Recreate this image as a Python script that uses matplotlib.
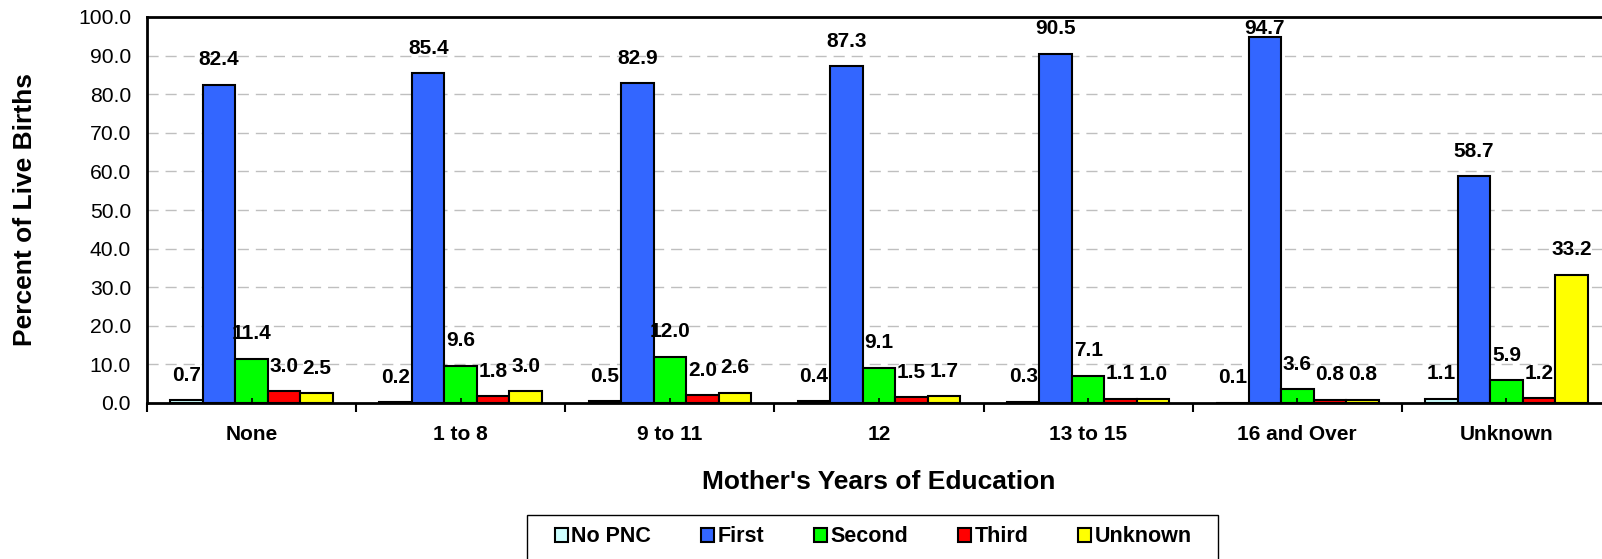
import matplotlib
matplotlib.use("Agg")
import matplotlib.pyplot as plt
from matplotlib.patches import Rectangle
import numpy as np

categories = ["None", "1 to 8", "9 to 11", "12", "13 to 15", "16 and Over", "Unknown"]
series_names = ["No PNC", "First", "Second", "Third", "Unknown"]
no_pnc = [0.7, 0.2, 0.5, 0.4, 0.3, 0.1, 1.1]
first = [82.4, 85.4, 82.9, 87.3, 90.5, 94.7, 58.7]
second = [11.4, 9.6, 12.0, 9.1, 7.1, 3.6, 5.9]
third = [3.0, 1.8, 2.0, 1.5, 1.1, 0.8, 1.2]
unknown = [2.5, 3.0, 2.6, 1.7, 1.0, 0.8, 33.2]
yticks = [0, 10, 20, 30, 40, 50, 60, 70, 80, 90, 100]

series = [no_pnc, first, second, third, unknown]
colors = ["#CCFFFF", "#3366FF", "#00FF00", "#FF0000", "#FFFF00"]

plt.rcParams['font.family'] = ['Liberation Sans', 'DejaVu Sans']

W, H = 1602, 559
fig = plt.figure(figsize=(W / 100, H / 100), dpi=100)
ax = fig.add_axes([147 / W, 1 - 403 / H, (1611 - 147) / W, (403 - 17) / H])

n = len(categories)
bw = 0.1554
centers = np.arange(n) + 0.5

# grid lines behind bars
ax.hlines(yticks[1:-1], 0, n, colors="#BFBFBF", linestyles=(0, (8, 5)), linewidth=1.0, zorder=0)

for k, (vals, col, name) in enumerate(zip(series, colors, series_names)):
    xs = centers + (k - 2) * bw
    ax.bar(xs, vals, width=bw, color=col, edgecolor="black", linewidth=1.5, label=name, zorder=1)
    for x, v in zip(xs, vals):
        ax.annotate(f"{v:.1f}", xy=(x, min(v, 90.6)), xytext=(0, 18), textcoords="offset points",
                    ha="center", va="center", fontsize=15, fontweight="bold", zorder=3)

ax.set_xlim(0, n)
ax.set_ylim(0, 100)
ax.set_axisbelow(False)

ax.set_yticks(yticks)
ax.set_yticklabels([f"{t:.1f}" for t in yticks], fontsize=15.2)
ax.tick_params(axis="y", length=0, pad=11.5)

ax.set_xticks(np.arange(n + 1))
ax.set_xticklabels([])
ax.tick_params(axis="x", which="major", direction="out", length=6.5, width=1.5)
ax.set_xticks(centers, minor=True)
ax.set_xticklabels(categories, minor=True, fontsize=15, fontweight="bold")
ax.tick_params(axis="x", which="minor", direction="in", length=3.5, width=1.2, pad=16)

for s in ["left", "top", "bottom"]:
    ax.spines[s].set_linewidth(2)
ax.spines["right"].set_visible(False)

ax.set_xlabel("Mother's Years of Education", fontsize=19, fontweight="bold")
ax.xaxis.set_label_coords(0.5, (403 - 482) / 386)
ax.xaxis.label.set_va("center")
ax.set_ylabel("Percent of Live Births", fontsize=19, fontweight="bold")
ax.yaxis.set_label_coords((25 - 147) / 1464, 0.5)
ax.yaxis.label.set_va("center")

# legend frame
fig.patches.append(Rectangle((527 / W, 1 - 566 / H), (1218 - 527) / W, (566 - 515) / H,
                             transform=fig.transFigure, facecolor="white", edgecolor="black",
                             linewidth=1.0, zorder=0))
handles, labels = ax.get_legend_handles_labels()
leg = fig.legend(handles, labels, loc="center left", bbox_to_anchor=(555 / W, 1 - 537 / H),
                 ncol=5, frameon=False, borderpad=0, borderaxespad=0,
                 handlelength=0.6, handleheight=0.6, handletextpad=0.15, columnspacing=2.33,
                 prop={"size": 15.5, "weight": "bold"})

fig.savefig("out.png", dpi=100)
